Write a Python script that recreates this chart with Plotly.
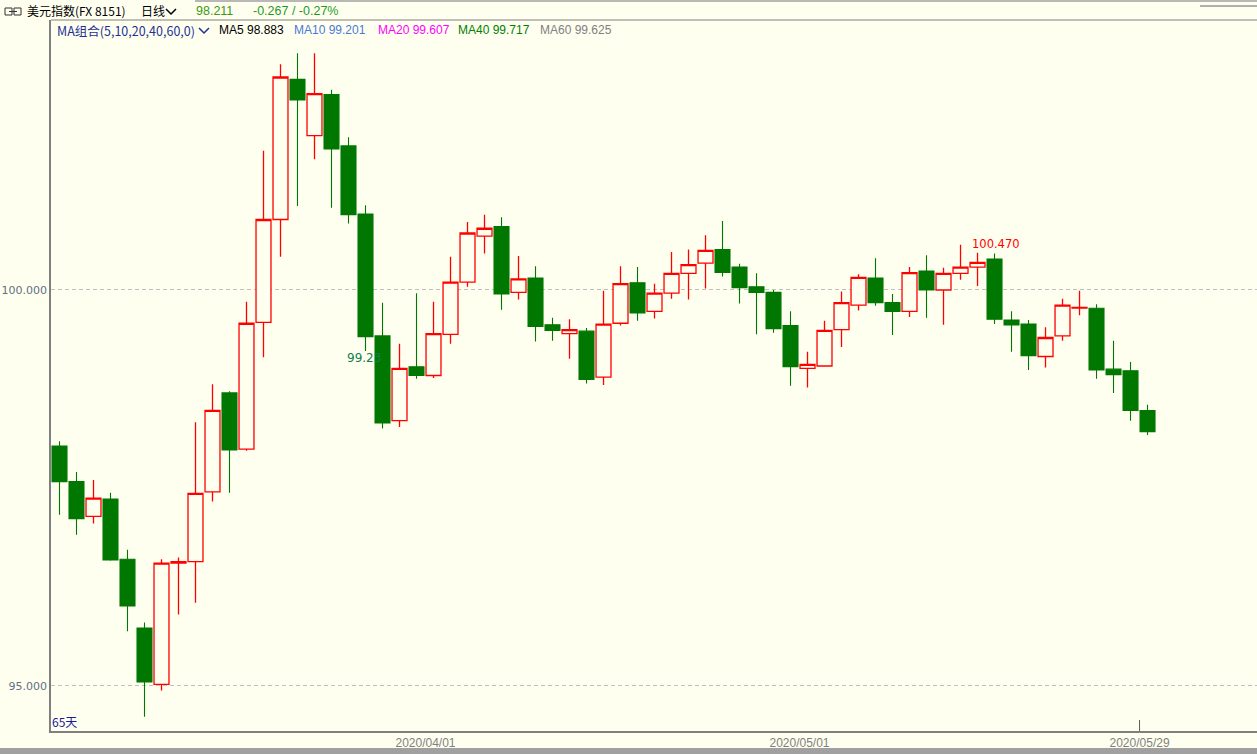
import pandas as pd
import plotly.graph_objects as go

# ---------------- data ----------------
dates = [d.strftime("%Y/%m/%d") for d in pd.bdate_range("2020-03-02", "2020-05-29")]

opens = [98.03, 97.58, 97.14, 97.36, 96.60, 95.73, 95.02, 96.55, 96.57, 97.45,
         98.70, 97.99, 99.59, 100.89, 102.66, 101.95, 102.47, 101.82, 100.96, 99.42,
         98.35, 99.03, 98.92, 99.44, 100.10, 100.68, 100.80, 99.97, 100.15, 99.56,
         99.45, 99.48, 98.90, 99.58, 100.09, 99.73, 99.96, 100.21, 100.34, 100.51,
         100.29, 100.04, 99.97, 99.55, 99.01, 99.04, 99.50, 99.81, 100.15, 99.84,
         99.73, 100.24, 100.00, 100.21, 100.29, 100.39, 99.62, 99.57, 99.16, 99.42,
         99.77, 99.77, 99.00, 98.98, 98.478]
highs = [98.09, 97.70, 97.60, 97.44, 96.72, 95.80, 96.60, 96.62, 98.33, 98.81,
         98.72, 99.85, 101.76, 102.85, 102.99, 102.99, 102.53, 101.93, 101.07, 99.84,
         99.32, 99.96, 99.85, 100.42, 100.86, 100.95, 100.92, 100.43, 100.30, 99.65,
         99.63, 99.52, 99.99, 100.30, 100.29, 100.08, 100.48, 100.51, 100.69, 100.87,
         100.33, 100.21, 100.00, 99.73, 99.22, 99.61, 99.98, 100.20, 100.40, 99.95,
         100.29, 100.44, 100.28, 100.57, 100.47, 100.46, 99.73, 99.62, 99.53, 99.89,
         99.99, 99.82, 99.36, 99.09, 98.55]
lows = [97.16, 96.91, 97.05, 96.58, 95.69, 94.61, 94.94, 95.90, 96.05, 97.33,
        97.44, 97.97, 99.15, 100.42, 101.06, 101.65, 101.04, 100.84, 99.23, 98.25,
        98.27, 98.88, 98.89, 99.32, 100.04, 100.46, 99.75, 99.88, 99.35, 99.36,
        99.13, 98.82, 98.80, 99.55, 99.61, 99.64, 99.89, 99.88, 100.02, 100.17,
        99.83, 99.44, 99.46, 98.79, 98.77, 99.03, 99.28, 99.74, 99.80, 99.43,
        99.66, 99.65, 99.56, 100.13, 100.05, 99.57, 99.22, 98.99, 99.02, 99.36,
        99.68, 98.88, 98.70, 98.35, 98.17]
closes = [97.58, 97.11, 97.37, 96.59, 96.01, 95.05, 96.55, 96.57, 97.43, 98.48,
          97.98, 99.58, 100.89, 102.69, 102.40, 102.48, 101.78, 100.95, 99.41, 98.32,
          99.01, 98.92, 99.45, 100.10, 100.72, 100.78, 99.95, 100.14, 99.54, 99.49,
          99.50, 98.87, 99.57, 100.08, 99.71, 99.96, 100.21, 100.32, 100.50, 100.22,
          100.03, 99.97, 99.51, 99.03, 99.06, 99.49, 99.84, 100.16, 99.84, 99.73,
          100.22, 100.00, 100.21, 100.29, 100.35, 99.63, 99.56, 99.17, 99.40, 99.81,
          99.78, 98.99, 98.93, 98.48, 98.211]

ytick_vals = [95, 100]
ytick_text = ["95.000", "100.000"]
xtick_dates = ["2020/04/01", "2020/05/01", "2020/05/29"]

header_name = "美元指数(FX 8151)"
header_period = "日线"
header_last = "98.211"
header_change = "-0.267 / -0.27%"
ma_title = "MA组合(5,10,20,40,60,0)"
ma_items = [("MA5 98.883", "#000000", 217), ("MA10 99.201", "#4a78dc", 292),
            ("MA20 99.607", "#ff00ff", 376), ("MA40 99.717", "#008000", 456),
            ("MA60 99.625", "#808080", 538)]
low_label = "99.23"
high_label = "100.470"
days_label = "65天"

# ---------------- geometry helpers ----------------
W, H = 1257, 754
L, T, B = 51, 20, 731
PW, PH = W - L, B - T
BG = "#fffff0"
UP = "#ff0000"
DOWN = "#007700"

def px(x):
    return (x - L) / PW

def py(y):
    return (B - y) / PH

xs = list(range(len(dates)))
tick_pos = [dates.index(d) - 0.47 for d in xtick_dates]

fig = go.Figure()
fig.add_trace(go.Candlestick(
    x=xs, open=opens, high=highs, low=lows, close=closes,
    increasing=dict(line=dict(color=UP, width=1.3), fillcolor=BG),
    decreasing=dict(line=dict(color=DOWN, width=1.1), fillcolor=DOWN),
    whiskerwidth=0, showlegend=False, hoverinfo="skip",
))

anns = []

def ann(x, y, text, color, size, family="Liberation Sans", xanchor="left"):
    anns.append(dict(x=px(x), y=py(y), xref="paper", yref="paper", text=text,
                     showarrow=False, xanchor=xanchor, yanchor="middle",
                     font=dict(color=color, size=size, family=family)))

cjk = "Noto Sans CJK SC"
ann(25, 11, header_name, "#000000", 12, cjk)
ann(139, 11, header_period, "#000000", 12, cjk)
ann(194, 11, header_last, "#3a9a10", 12.5)
ann(251, 11, header_change, "#1f9a1f", 12.5)
ann(55, 30, ma_title, "#1c3296", 12.5, cjk)
for text, color, x0 in ma_items:
    ann(x0, 30, text, color, 12)
ann(345, 358, low_label, "#108050", 12, "DejaVu Sans")
ann(970, 244, high_label, "#ff0000", 11.5, "DejaVu Sans")
ann(50, 721, days_label, "#1a1aa0", 12, cjk)

shapes = []

def seg(x0, y0, x1, y1, color, width=1):
    shapes.append(dict(type="line", xref="paper", yref="paper",
                       x0=px(x0), y0=py(y0), x1=px(x1), y1=py(y1),
                       line=dict(color=color, width=width)))

# header lines
seg(195, 1, W, 1, "#a0a0a0", 1.5)
seg(L, 20, W, 20, "#808080", 1.2)
seg(1200, 6, W, 6, "#606060", 1)
# bottom band
shapes.append(dict(type="rect", xref="paper", yref="paper",
                   x0=px(0), x1=px(W), y0=py(H + 2), y1=py(748),
                   fillcolor="#a0a0a0", line=dict(width=0)))
# link icon
for x0 in (5, 14):
    shapes.append(dict(type="rect", xref="paper", yref="paper",
                       x0=px(x0), x1=px(x0 + 7), y0=py(15), y1=py(8),
                       line=dict(color="#333333", width=1)))
seg(9, 11.5, 17, 11.5, "#333333", 1)
# chevrons
for cx, cy, color in ((171, 11, "#000000"), (204, 30, "#1c3296")):
    shapes.append(dict(type="path", xref="paper", yref="paper",
                       path=f"M {px(cx-5)},{py(cy-2)} L {px(cx)},{py(cy+3)} L {px(cx+5)},{py(cy-2)}",
                       line=dict(color=color, width=1.5)))
# last-day tick mark
shapes.append(dict(type="line", xref="x", yref="paper", x0=tick_pos[-1], x1=tick_pos[-1],
                   y0=0, y1=11 / PH, line=dict(color="#606060", width=1)))

fig.update_layout(
    width=W, height=H,
    margin=dict(l=L, r=0, t=T, b=H - B, pad=0, autoexpand=False),
    paper_bgcolor=BG, plot_bgcolor=BG,
    boxgap=0.12, boxgroupgap=0,
    showlegend=False,
    annotations=anns, shapes=shapes,
    xaxis=dict(range=[-0.5, 70.44], rangeslider=dict(visible=False),
               tickvals=tick_pos, ticktext=xtick_dates, ticks="",
               showgrid=False, zeroline=False, automargin=False,
               showline=True, linecolor="#808080", linewidth=1.5,
               tickfont=dict(family="Liberation Sans", size=12, color="#7f7f7f")),
    yaxis=dict(range=[94.43, 103.41], tickvals=ytick_vals, ticktext=ytick_text,
               ticks="", showgrid=True, gridcolor="#c0c0c0", griddash="4px,3px",
               gridwidth=1, zeroline=False, automargin=False,
               showline=True, linecolor="#808080", linewidth=1.5,
               tickfont=dict(family="DejaVu Sans", size=11, color="#5f6f85")),
)

fig.write_html("out.html", config={"displayModeBar": False},
               post_script="document.body.style.margin='0';document.body.style.overflow='hidden';document.body.style.background='#fffff0';")
